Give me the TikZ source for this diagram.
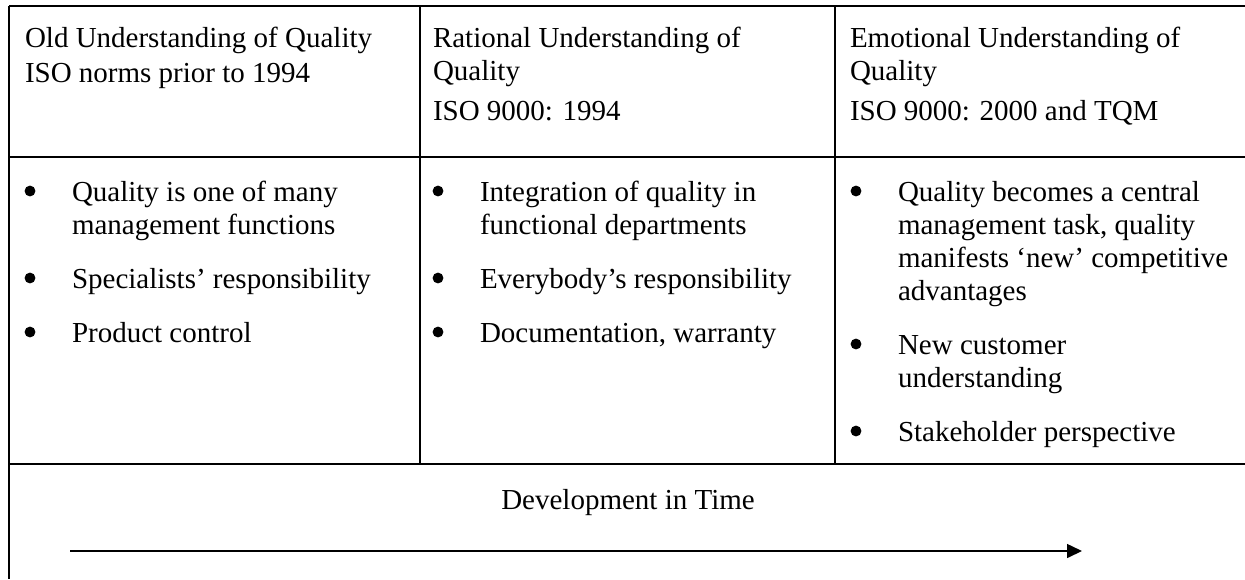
\documentclass[tikz,border=0pt]{standalone}
\usepackage{fontspec}
\setmainfont{Liberation Serif}
\usetikzlibrary{arrows.meta}
\newcommand{\celltext}[1]{\parbox[t]{160pt}{\raggedright #1}}
\begin{document}
\begin{tikzpicture}[x=0.4138pt,y=-0.4138pt,
  rule/.style={line width=0.65pt,black},
  txt/.style={anchor=base west,inner sep=0pt,outer sep=0pt,font=\fontsize{12}{13.66}\selectfont},
  bulletdot/.style={circle,fill=black,inner sep=0pt,outer sep=0pt,minimum size=4.5pt},
  timearrow/.style={line width=0.6pt,-{Triangle[length=6.2pt,width=5.8pt]}}]
\useasboundingbox (0,0) rectangle (1245,579);
% table rules
\draw[rule] (9,6) -- (1245,6);
\draw[rule] (9,6) -- (9,579);
\draw[rule] (420,6) -- (420,464);
\draw[rule] (835,6) -- (835,464);
\draw[rule] (9,157) -- (1245,157);
\draw[rule] (9,464) -- (1245,464);
% headers
\node[txt] (h1a) at (25,47) {Old Understanding of Quality};
\node[txt] (h1b) at (25,82) {ISO norms prior to 1994};
\node[txt] (h2a) at (433,47) {\celltext{Rational Understanding of\\Quality}};
\node[txt] (h2b) at (433,120) {ISO 9000: 1994};
\node[txt] (h3a) at (850,47) {\celltext{Emotional Understanding of\\Quality}};
\node[txt] (h3b) at (850,120) {ISO 9000: 2000 and TQM};
% column 1 body
\node[bulletdot] (b11) at (30,191) {};
\node[txt] (t11) at (72,201) {\celltext{Quality is one of many\\management functions}};
\node[bulletdot] (b12) at (30,278) {};
\node[txt] (t12) at (72,288) {Specialists’ responsibility};
\node[bulletdot] (b13) at (30,332) {};
\node[txt] (t13) at (72,342) {Product control};
% column 2 body
\node[bulletdot] (b21) at (438,191) {};
\node[txt] (t21) at (480,201) {\celltext{Integration of quality in\\functional departments}};
\node[bulletdot] (b22) at (438,278) {};
\node[txt] (t22) at (480,288) {Everybody’s responsibility};
\node[bulletdot] (b23) at (438,332) {};
\node[txt] (t23) at (480,342) {Documentation, warranty};
% column 3 body
\node[bulletdot] (b31) at (856,191) {};
\node[txt] (t31) at (898,201) {\celltext{Quality becomes a central\\management task, quality\\manifests ‘new’ competitive\\advantages}};
\node[bulletdot] (b32) at (856,344) {};
\node[txt] (t32) at (898,354) {\celltext{New customer\\understanding}};
\node[bulletdot] (b33) at (856,431) {};
\node[txt] (t33) at (898,441) {Stakeholder perspective};
% bottom row
\node[txt,anchor=base] (dev) at (628,509) {Development in Time};
\coordinate (arrowstart) at (70,551);
\coordinate (arrowend) at (1082,551);
\draw[timearrow] (arrowstart) -- (arrowend);
\end{tikzpicture}
\end{document}
